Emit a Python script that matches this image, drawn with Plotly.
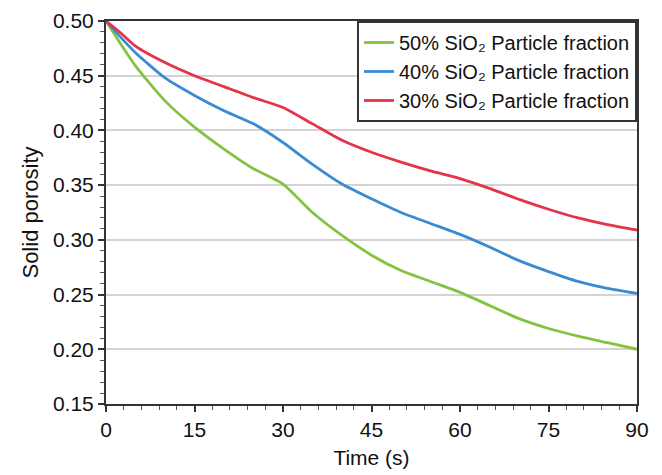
import plotly.graph_objects as go

time_s = [0, 2.5, 5, 10, 15, 20, 25, 30, 35, 40, 45, 50, 55, 60, 65, 70, 75, 80, 85, 90]
sio2_50 = [0.500, 0.479, 0.459, 0.427, 0.403, 0.383, 0.365, 0.351, 0.325, 0.304, 0.286, 0.272,
           0.262, 0.252, 0.240, 0.228, 0.219, 0.212, 0.206, 0.200]
sio2_40 = [0.500, 0.485, 0.471, 0.448, 0.432, 0.418, 0.406, 0.389, 0.369, 0.351, 0.3375, 0.325,
           0.315, 0.305, 0.2935, 0.281, 0.271, 0.262, 0.2556, 0.251]
sio2_30 = [0.500, 0.489, 0.477, 0.462, 0.450, 0.440, 0.430, 0.421, 0.406, 0.391, 0.380, 0.371,
           0.363, 0.356, 0.347, 0.337, 0.328, 0.320, 0.314, 0.309]

series_names = ["50% SiO₂ Particle fraction",
                "40% SiO₂ Particle fraction",
                "30% SiO₂ Particle fraction"]
colors = ["#86c241", "#3a8bd3", "#e3344a"]

x_ticks = [0, 15, 30, 45, 60, 75, 90]
y_ticks = [0.15, 0.20, 0.25, 0.30, 0.35, 0.40, 0.45, 0.50]

fig = go.Figure()
for name, vals, c in zip(series_names, [sio2_50, sio2_40, sio2_30], colors):
    fig.add_trace(go.Scatter(x=time_s, y=vals, mode="lines", name=name,
                             line=dict(color=c, width=2.8, shape="spline", smoothing=0.6)))

font_family = "Liberation Sans, Arial, sans-serif"
fig.update_layout(
    width=654, height=467,
    margin=dict(l=98, r=25, t=13, b=71, autoexpand=False),
    paper_bgcolor="white", plot_bgcolor="white",
    font=dict(family=font_family, size=21, color="#111111"),
    showlegend=True,
    legend=dict(x=1, y=1, xanchor="right", yanchor="top",
                bgcolor="white", bordercolor="#333333", borderwidth=2,
                font=dict(size=20), itemwidth=30, tracegroupgap=0),
    xaxis=dict(range=[0, 90], tickvals=x_ticks, ticktext=[str(v) for v in x_ticks],
               showgrid=False, zeroline=False, ticklabeloverflow="allow",
               showline=True, linecolor="#333333", linewidth=2, mirror=True,
               ticks="outside", ticklen=6, tickwidth=1.5, tickcolor="#333333",
               minor=dict(dtick=3, ticks="outside", ticklen=4, tickwidth=1, tickcolor="#555555"),
               title=dict(text="Time (s)", font=dict(size=21), standoff=10)),
    yaxis=dict(range=[0.15, 0.50], tickvals=y_ticks, ticktext=[f"{v:.2f}" for v in y_ticks],
               showgrid=True, gridcolor="#d3d3d3", gridwidth=1.5, zeroline=False,
               ticklabeloverflow="allow",
               showline=True, linecolor="#333333", linewidth=2, mirror=True,
               ticks="outside", ticklen=6, tickwidth=1.5, tickcolor="#333333",
               minor=dict(dtick=0.01, ticks="outside", ticklen=4, tickwidth=1, tickcolor="#555555",
                          showgrid=False),
               title=dict(text="Solid porosity", font=dict(size=22), standoff=8)),
)

fig.write_html("out.html")
